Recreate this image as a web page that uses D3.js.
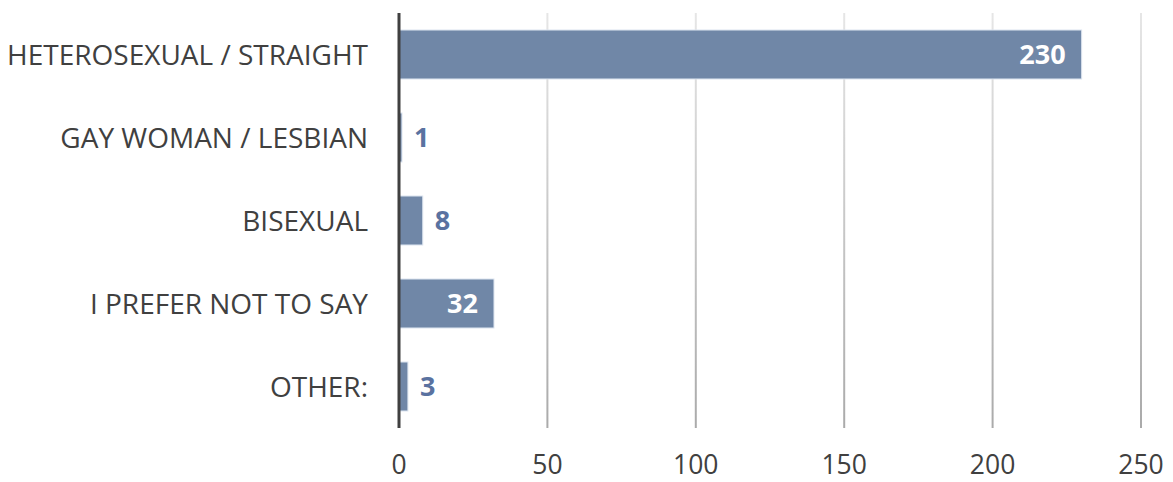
<!DOCTYPE html>
<html><head><meta charset="utf-8">
<script src="https://cdn.jsdelivr.net/npm/d3@7"></script>
<style>body{margin:0;background:#fff}</style>
</head><body>
<svg id="c" width="1173" height="482"></svg>
<script>
const categories = ["HETEROSEXUAL / STRAIGHT","GAY WOMAN / LESBIAN","BISEXUAL","I PREFER NOT TO SAY","OTHER:"];
const values = [230,1,8,32,3];
const ticks = [0,50,100,150,200,250];
const insideThreshold = 20;

const svg = d3.select("#c");
const x = d3.scaleLinear().domain([0,250]).range([399,1141]);
const y = d3.scaleBand().domain(categories).range([13,428]).paddingInner(0.41).paddingOuter(0.205);

const defs = svg.append("defs");
const g = defs.append("linearGradient").attr("id","gg")
  .attr("gradientUnits","userSpaceOnUse").attr("x1",0).attr("y1",13).attr("x2",0).attr("y2",428);
g.append("stop").attr("offset","0").attr("stop-color","#e6e6e6");
g.append("stop").attr("offset","1").attr("stop-color","#aaaaaa");

svg.append("g").selectAll("line").data(ticks.slice(1)).join("line")
  .attr("x1",d=>x(d)).attr("x2",d=>x(d)).attr("y1",13).attr("y2",428)
  .attr("stroke","url(#gg)").attr("stroke-width",2);

svg.append("g").selectAll("rect").data(values).join("rect")
  .attr("x",x(0)).attr("y",(d,i)=>y(categories[i]))
  .attr("width",d=>x(d)-x(0)).attr("height",y.bandwidth())
  .attr("fill","#7087a7").attr("stroke","#dbe3ee").attr("stroke-width",1);

svg.append("line").attr("x1",x(0)).attr("x2",x(0)).attr("y1",13).attr("y2",428)
  .attr("stroke","#404040").attr("stroke-width",3);

svg.append("g").selectAll("text").data(values).join("text")
  .attr("x",d=> d>=insideThreshold ? x(d)-16 : x(d)+12)
  .attr("y",(d,i)=>y(categories[i])+y.bandwidth()/2)
  .attr("dy","0.36em")
  .attr("text-anchor",d=> d>=insideThreshold ? "end":"start")
  .attr("fill",d=> d>=insideThreshold ? "#ffffff":"#5a72a0")
  .attr("font-family","Open Sans, sans-serif").attr("font-weight","bold").attr("font-size",27)
  .text(d=>d);

svg.append("g").selectAll("text").data(categories).join("text")
  .attr("x",368).attr("y",d=>y(d)+y.bandwidth()/2).attr("dy","0.36em")
  .attr("text-anchor","end").attr("fill","#404040")
  .attr("font-family","Open Sans, sans-serif").attr("font-size",28)
  .text(d=>d);

svg.append("g").selectAll("text").data(ticks).join("text")
  .attr("x",d=>x(d)).attr("y",474).attr("text-anchor","middle").attr("fill","#404040")
  .attr("font-family","Open Sans, sans-serif").attr("font-size",26.5)
  .text(d=>d);
</script>
</body></html>
